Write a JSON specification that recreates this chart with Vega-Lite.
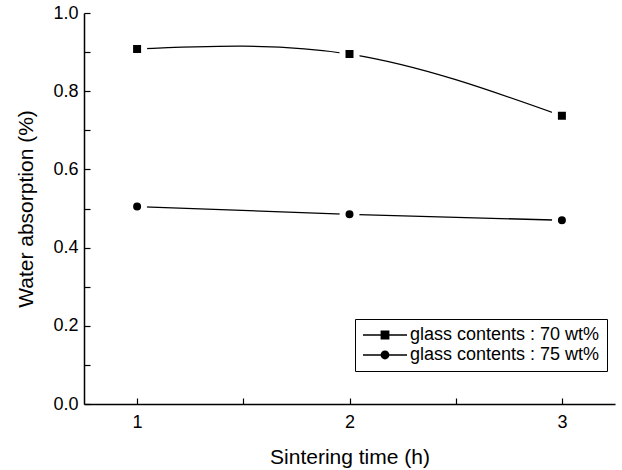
{
  "$schema": "https://vega.github.io/schema/vega-lite/v6.json",
  "width": 531,
  "height": 391,
  "autosize": {"type": "none"},
  "padding": {"left": 84, "top": 13, "right": 7, "bottom": 66},
  "background": "white",
  "config": {
    "view": {"stroke": null},
    "font": "Liberation Sans",
    "axis": {
      "domainColor": "black",
      "domainWidth": 1.5,
      "tickColor": "black",
      "tickWidth": 1.2,
      "tickSize": -6,
      "labelColor": "black",
      "titleColor": "black",
      "labelFont": "Liberation Sans",
      "titleFont": "Liberation Sans",
      "labelFontSize": 18,
      "titleFontSize": 21,
      "titleFontWeight": "normal",
      "grid": false
    }
  },
  "data": {
    "values": [
      {"t": 1, "w": 0.908, "series": "glass contents : 70 wt%"},
      {"t": 2, "w": 0.895, "series": "glass contents : 70 wt%"},
      {"t": 3, "w": 0.737, "series": "glass contents : 70 wt%"},
      {"t": 1, "w": 0.505, "series": "glass contents : 75 wt%"},
      {"t": 2, "w": 0.485, "series": "glass contents : 75 wt%"},
      {"t": 3, "w": 0.47, "series": "glass contents : 75 wt%"}
    ]
  },
  "encoding": {
    "x": {
      "field": "t",
      "type": "quantitative",
      "scale": {"domain": [0.75, 3.25], "nice": false, "zero": false},
      "axis": {
        "title": "Sintering time (h)",
        "values": [1, 1.5, 2, 2.5, 3],
        "labelExpr": "datum.value % 1 == 0 ? format(datum.value, 'd') : ''",
        "labelPadding": 15,
        "titlePadding": 15
      }
    },
    "y": {
      "field": "w",
      "type": "quantitative",
      "scale": {"domain": [0, 1], "nice": false},
      "axis": {
        "title": "Water absorption (%)",
        "values": [0, 0.1, 0.2, 0.3, 0.4, 0.5, 0.6, 0.7, 0.8, 0.9, 1.0],
        "labelExpr": "round(datum.value * 10) % 2 == 0 ? format(datum.value, '.1f') : ''",
        "labelPadding": 12,
        "titlePadding": 16
      }
    }
  },
  "layer": [
    {
      "mark": {"type": "line", "interpolate": "natural", "color": "black", "strokeWidth": 1.3},
      "encoding": {"detail": {"field": "series"}}
    },
    {
      "transform": [{"filter": "datum.series == 'glass contents : 70 wt%'"}],
      "mark": {"type": "point", "shape": "square", "size": 196, "fill": "black", "stroke": "white", "strokeWidth": 6, "opacity": 1, "fillOpacity": 1, "strokeOpacity": 1}
    },
    {
      "transform": [{"filter": "datum.series == 'glass contents : 75 wt%'"}],
      "mark": {"type": "point", "shape": "circle", "size": 196, "fill": "black", "stroke": "white", "strokeWidth": 6, "opacity": 1, "fillOpacity": 1, "strokeOpacity": 1}
    },
    {
      "transform": [{"filter": "false"}],
      "mark": {"type": "point", "filled": true, "color": "black", "opacity": 1},
      "encoding": {
        "shape": {
          "field": "series",
          "type": "nominal",
          "scale": {
            "domain": ["glass contents : 70 wt%", "glass contents : 75 wt%"],
            "range": [
              "M-5.5,-0.16H5.5V0.16H-5.5ZM-1.1,-1.1H1.1V1.1H-1.1Z",
              "M-5.5,-0.16H5.5V0.16H-5.5ZM1.1,0A1.1,1.1,0,1,1,-1.1,0A1.1,1.1,0,1,1,1.1,0Z"
            ]
          },
          "legend": {
            "title": null,
            "orient": "none",
            "legendX": 271,
            "legendY": 306,
            "strokeColor": "black",
            "fillColor": "white",
            "padding": 7,
            "labelFontSize": 18,
            "labelFont": "Liberation Sans",
            "labelColor": "black",
            "labelLimit": 400,
            "symbolSize": 64,
            "symbolOffset": 14,
            "labelOffset": 16,
            "rowPadding": 2,
            "symbolFillColor": "black",
            "symbolStrokeColor": "black",
            "symbolStrokeWidth": 0,
            "symbolOpacity": 1
          }
        }
      }
    }
  ]
}
